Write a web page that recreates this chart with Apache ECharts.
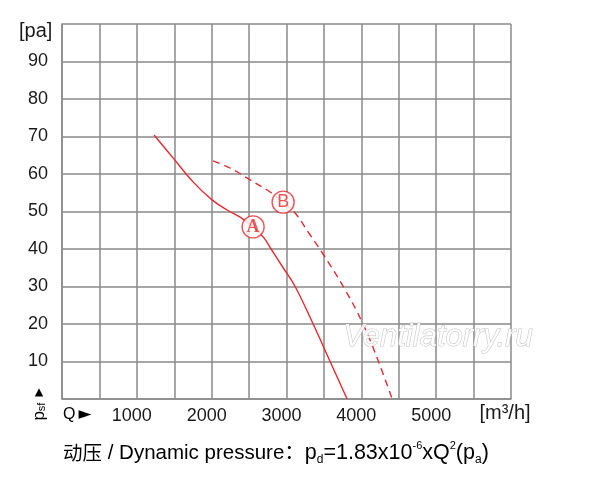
<!DOCTYPE html>
<html>
<head>
<meta charset="utf-8">
<script src="https://cdn.jsdelivr.net/npm/echarts@6/dist/echarts.min.js"></script>
<style>html,body{margin:0;padding:0;background:#fff;}#c{width:600px;height:477px;}</style>
</head>
<body>
<div id="c"></div>
<script>
// Curve A (solid)
var qA = [1230, 1484, 1751, 2005, 2206, 2380, 2554, 2701, 2794, 2955, 3115, 3356, 3583, 3810];
var pA = [70.4, 64.3, 57.9, 53.1, 50.4, 48.5, 45.9, 42.9, 40.0, 35.0, 30.0, 20.0, 10.0, 0];
// Curve B (dashed)
var qB = [2019, 2246, 2514, 2781, 2955, 3115, 3300, 3490, 3784, 4011, 4185, 4412];
var pB = [63.5, 61.6, 58.4, 55.2, 52.5, 49.6, 44.2, 38.6, 29.1, 20.5, 12.3, 0];
// Curve markers
var markerNames = ['A', 'B'];
var markerQ = [2554, 2955];
var markerP = [45.9, 52.5];
// Axis labels
var xTickLabels = ['1000', '2000', '3000', '4000', '5000'];
var yTickLabels = ['10', '20', '30', '40', '50', '60', '70', '80', '90'];
var yUnit = '[pa]';
var xUnit = '[m³/h]';
var qLabel = ['Q', '►'];
var footerCJK = '动压';
var footerText = ' / Dynamic pressure：';
var footer = ['p', 'd', '=1.83x10', '-6', 'xQ', '2', '(p', 'a', ')'];
var watermark = 'Ventilatorry.ru';

var RED = '#e52a2f';
var GRID = '#8a8a8a';
var FONT = "'Liberation Sans', Arial, 'Noto Sans CJK SC', sans-serif";
var TXT = '#1a1a1a';

function zip(q, p) { return q.map(function (v, i) { return [v, p[i]]; }); }

var chart = echarts.init(document.getElementById('c'), null, { renderer: 'canvas' });
chart.setOption({
  animation: false,
  backgroundColor: '#fff',
  grid: { left: 62, right: 89, top: 24, bottom: 78, containLabel: false },
  xAxis: {
    type: 'value', min: 0, max: 6000, interval: 500,
    axisLine: { show: true, lineStyle: { color: GRID, width: 1.5 } },
    axisTick: { show: false },
    splitLine: { show: true, lineStyle: { color: GRID, width: 1.5 } },
    axisLabel: {
      margin: 8, color: TXT, fontSize: 18, fontFamily: FONT,
      padding: [0, 10, 0, 0],
      formatter: function (v) {
        var s = String(v);
        return xTickLabels.indexOf(s) >= 0 ? s : '';
      }
    }
  },
  yAxis: {
    type: 'value', min: 0, max: 100, interval: 10,
    axisLine: { show: true, lineStyle: { color: GRID, width: 1.5 } },
    axisTick: { show: false },
    splitLine: { show: true, lineStyle: { color: GRID, width: 1.5 } },
    axisLabel: {
      margin: 14, color: TXT, fontSize: 18, fontFamily: FONT,
      formatter: function (v) {
        var s = String(v);
        return yTickLabels.indexOf(s) >= 0 ? s : '';
      }
    }
  },
  series: [
    {
      type: 'line', data: zip(qA, pA), smooth: 0.4, symbol: 'none',
      lineStyle: { color: RED, width: 1.4 }, z: 3
    },
    {
      type: 'line', data: zip(qB, pB), smooth: 0.4, symbol: 'none',
      lineStyle: { color: RED, width: 1.4, type: [7, 5] }, z: 3
    },
    {
      type: 'scatter', symbol: 'circle', symbolSize: 22, z: 5,
      itemStyle: { color: '#fff', borderColor: RED, borderWidth: 1.4 },
      label: {
        show: true, position: 'inside', color: RED, fontSize: 18,
        formatter: function (p) { return p.name; }
      },
      data: markerNames.map(function (n, i) {
        return {
          name: n, value: [markerQ[i], markerP[i]],
          label: { fontFamily: i === 0 ? "'Liberation Serif', serif" : FONT, fontWeight: i === 0 ? 'bold' : 'normal' }
        };
      })
    }
  ],
  graphic: [
    {
      type: 'text', left: 19, top: 21, z: 10,
      style: { text: yUnit, font: '20px ' + FONT, fill: TXT }
    },
    {
      type: 'text', x: 63, y: 415, z: 10,
      style: {
        text: '{q|' + qLabel[0] + '}{a|' + qLabel[1] + '}', verticalAlign: 'middle', align: 'left',
        rich: {
          q: { fontSize: 16, fontFamily: FONT, color: TXT, padding: [0, 3, 0, 0] },
          a: { fontSize: 17, fontFamily: 'DejaVu Sans', color: TXT }
        }
      }
    },
    {
      type: 'text', x: 505, y: 413, z: 10,
      style: { text: xUnit, font: '20px ' + FONT, fill: TXT, verticalAlign: 'middle', align: 'center' }
    },
    {
      type: 'text', x: 39, y: 403, rotation: Math.PI / 2, z: 10,
      style: {
        text: '{m|p}{s|sf} {a|►}', align: 'center', verticalAlign: 'middle',
        rich: {
          m: { fontSize: 17, fontFamily: FONT, color: TXT },
          s: { fontSize: 11, fontFamily: FONT, color: TXT, verticalAlign: 'bottom' },
          a: { fontSize: 14, fontFamily: FONT, color: TXT }
        }
      }
    },
    {
      type: 'text', x: 63, y: 453, z: 10,
      style: {
        text: '{c|' + footerCJK + '}{m|' + footerText + '}{f|' + footer[0] + '}{sub|' + footer[1] + '}{f|' + footer[2] + '}{sup|' + footer[3] + '}{f|' + footer[4] + '}{sup|' + footer[5] + '}{f|' + footer[6] + '}{sub|' + footer[7] + '}{f|' + footer[8] + '}',
        align: 'left', verticalAlign: 'middle',
        rich: {
          c: { fontSize: 19.5, fontFamily: "'Noto Sans CJK SC', sans-serif", color: TXT, lineHeight: 26, verticalAlign: 'middle' },
          m: { fontSize: 20.5, fontFamily: FONT, color: TXT, lineHeight: 26, verticalAlign: 'middle' },
          f: { fontSize: 21.5, fontFamily: FONT, color: TXT, lineHeight: 26, verticalAlign: 'middle' },
          sub: { fontSize: 12, fontFamily: FONT, color: TXT, lineHeight: 26, verticalAlign: 'bottom' },
          sup: { fontSize: 11, fontFamily: FONT, color: TXT, lineHeight: 26, verticalAlign: 'top' }
        }
      }
    },
    {
      type: 'text', x: 438, y: 337, z: 20,
      style: {
        text: watermark, font: 'italic 31px ' + FONT, fill: 'rgba(255,255,255,0.85)',
        stroke: 'rgba(170,170,170,0.7)', lineWidth: 1, align: 'center', verticalAlign: 'middle'
      }
    }
  ]
});
</script>
</body>
</html>
